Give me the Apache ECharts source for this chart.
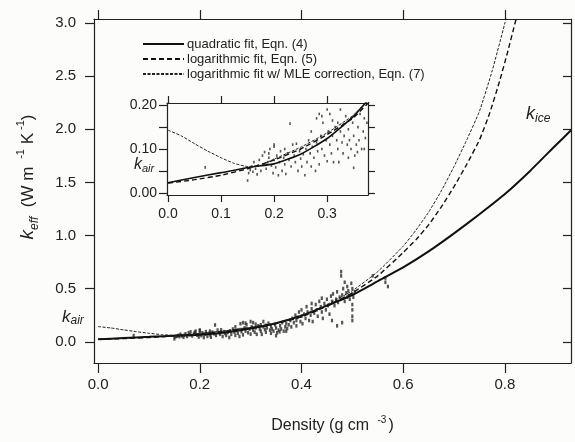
<!DOCTYPE html>
<html>
<head>
<meta charset="utf-8">
<script src="https://cdn.jsdelivr.net/npm/echarts@6/dist/echarts.min.js"></script>
<style>
  html, body { margin: 0; padding: 0; background: #fcfcfa; }
  #chart { width: 575px; height: 442px; }
</style>
</head>
<body>
<div id="chart"></div>
<script>
// fitted curves, [density, k_eff]
var quadFit = [[0, 0.023], [0.05, 0.035], [0.1, 0.046], [0.156, 0.059], [0.2, 0.066], [0.25, 0.088],
	[0.3, 0.124], [0.35, 0.175], [0.4, 0.245], [0.45, 0.34], [0.5, 0.44], [0.55, 0.57], [0.6, 0.70],
	[0.65, 0.85], [0.7, 1.02], [0.75, 1.20], [0.8, 1.39], [0.85, 1.61], [0.9, 1.85], [0.93, 1.99]]
var logFit = [[0, 0.022], [0.05, 0.03], [0.1, 0.04], [0.15, 0.055], [0.2, 0.075], [0.25, 0.1],
	[0.3, 0.133], [0.35, 0.172], [0.4, 0.235], [0.45, 0.335], [0.5, 0.46], [0.55, 0.62], [0.6, 0.84],
	[0.625, 0.96], [0.65, 1.1], [0.675, 1.27], [0.7, 1.46], [0.725, 1.67], [0.75, 1.9], [0.77, 2.15],
	[0.79, 2.46], [0.805, 2.72], [0.82, 3.0], [0.84, 3.35]]
var mleFit = [[0, 0.143], [0.025, 0.13], [0.05, 0.112], [0.075, 0.095], [0.1, 0.08], [0.125, 0.067],
	[0.15, 0.06], [0.175, 0.063], [0.2, 0.077], [0.25, 0.104], [0.3, 0.137], [0.35, 0.178], [0.4, 0.245],
	[0.45, 0.35], [0.5, 0.48], [0.55, 0.66], [0.6, 0.9], [0.625, 1.05], [0.65, 1.22], [0.675, 1.42],
	[0.7, 1.65], [0.725, 1.9], [0.75, 2.17], [0.775, 2.55], [0.8, 3.0], [0.815, 3.3]]

// measurements
var snowPoints = [
	[0.07, 0.058], [0.150, 0.028], [0.152, 0.045], [0.155, 0.052], [0.158, 0.06], [0.16, 0.048],
	[0.162, 0.07], [0.165, 0.055], [0.168, 0.042], [0.17, 0.062], [0.172, 0.075], [0.175, 0.05],
	[0.178, 0.085], [0.18, 0.065], [0.182, 0.093], [0.185, 0.055], [0.188, 0.07], [0.19, 0.08],
	[0.19, 0.09], [0.192, 0.1], [0.195, 0.062], [0.198, 0.045], [0.2, 0.075], [0.2, 0.11], [0.2, 0.105],
	[0.203, 0.058], [0.205, 0.085], [0.208, 0.04], [0.21, 0.07], [0.212, 0.095], [0.215, 0.05],
	[0.218, 0.08], [0.22, 0.065], [0.22, 0.1], [0.222, 0.043], [0.225, 0.09], [0.228, 0.075],
	[0.23, 0.158], [0.232, 0.06], [0.235, 0.11], [0.238, 0.085], [0.24, 0.07], [0.242, 0.112],
	[0.245, 0.05], [0.248, 0.095], [0.25, 0.078], [0.252, 0.06], [0.255, 0.088], [0.258, 0.04],
	[0.26, 0.1], [0.262, 0.07], [0.265, 0.12], [0.268, 0.09], [0.27, 0.06], [0.27, 0.14], [0.272, 0.105],
	[0.275, 0.08], [0.278, 0.05], [0.28, 0.17], [0.28, 0.115], [0.282, 0.095], [0.285, 0.18],
	[0.285, 0.065], [0.288, 0.13], [0.29, 0.175], [0.29, 0.1], [0.292, 0.16], [0.295, 0.085],
	[0.298, 0.12], [0.3, 0.19], [0.3, 0.072], [0.302, 0.14], [0.305, 0.18], [0.305, 0.11], [0.308, 0.09],
	[0.31, 0.165], [0.31, 0.13], [0.312, 0.07], [0.315, 0.15], [0.318, 0.12], [0.32, 0.1], [0.32, 0.16],
	[0.322, 0.07], [0.325, 0.14], [0.325, 0.19], [0.328, 0.115], [0.33, 0.09], [0.33, 0.155],
	[0.332, 0.13], [0.335, 0.175], [0.338, 0.11], [0.34, 0.145], [0.34, 0.08], [0.342, 0.12],
	[0.345, 0.1], [0.348, 0.16], [0.35, 0.057], [0.35, 0.13], [0.352, 0.085], [0.355, 0.11],
	[0.357, 0.093], [0.358, 0.15], [0.36, 0.12], [0.362, 0.18], [0.365, 0.1], [0.368, 0.14],
	[0.37, 0.1], [0.37, 0.17], [0.372, 0.125],
	[0.375, 0.16], [0.378, 0.2], [0.38, 0.14], [0.382, 0.22], [0.385, 0.18], [0.388, 0.25], [0.39, 0.2],
	[0.39, 0.15], [0.392, 0.23], [0.395, 0.28], [0.398, 0.19], [0.4, 0.24], [0.4, 0.3], [0.402, 0.17],
	[0.405, 0.26], [0.408, 0.22], [0.41, 0.33], [0.412, 0.28], [0.415, 0.2], [0.418, 0.25], [0.42, 0.31],
	[0.42, 0.36], [0.422, 0.19], [0.425, 0.27], [0.428, 0.35], [0.43, 0.3], [0.432, 0.24], [0.435, 0.38],
	[0.438, 0.33], [0.44, 0.28], [0.44, 0.41], [0.442, 0.22], [0.445, 0.36], [0.448, 0.3], [0.45, 0.4],
	[0.452, 0.34], [0.455, 0.26], [0.458, 0.43], [0.46, 0.38], [0.46, 0.2], [0.462, 0.45], [0.465, 0.34],
	[0.468, 0.4], [0.47, 0.15], [0.47, 0.47], [0.472, 0.37], [0.475, 0.42], [0.478, 0.62], [0.478, 0.66],
	[0.48, 0.44], [0.48, 0.18], [0.482, 0.5], [0.485, 0.38], [0.485, 0.56], [0.488, 0.46], [0.49, 0.42],
	[0.49, 0.52], [0.492, 0.48], [0.495, 0.4], [0.498, 0.55], [0.5, 0.3], [0.5, 0.24], [0.5, 0.2],
	[0.5, 0.35], [0.5, 0.5], [0.5, 0.45], [0.502, 0.42], [0.505, 0.47], [0.54, 0.62], [0.565, 0.56],
	[0.565, 0.6], [0.57, 0.52]
]

// ticks
var xTicks = [0, 0.2, 0.4, 0.6, 0.8]
var yTicks = [0, 0.5, 1.0, 1.5, 2.0, 2.5, 3.0]
var insetXTicks = [0, 0.1, 0.2, 0.3]
var insetYTicks = [0, 0.05, 0.1, 0.15, 0.2]
var insetYLabels = [0, 0.1, 0.2]

var names = ['quadratic fit, Eqn. (4)', 'logarithmic fit, Eqn. (5)', 'logarithmic fit w/ MLE correction, Eqn. (7)']

var ink = '#222'
var font = 'Liberation Sans, Arial, sans-serif'

function frameAxis(opt) {
	// one side of a boxed frame
	var a = {
		type: 'value',
		gridIndex: opt.grid,
		position: opt.pos,
		min: opt.min,
		max: opt.max,
		splitLine: { show: false },
		axisLine: { show: true, onZero: false, lineStyle: { color: ink, width: 1.2 } },
		axisTick: {
			show: true, inside: !!opt.inside, length: opt.tickLen,
			customValues: opt.ticks, lineStyle: { color: ink, width: 1.2 }
		},
		axisLabel: { show: false }
	}
	if (opt.labels) {
		a.axisLabel = {
			show: true, customValues: opt.labels, margin: opt.margin,
			fontSize: opt.fontSize, color: ink, fontFamily: font,
			formatter: function (v) { return v.toFixed(opt.digits) }
		}
	}
	return a
}

function curves(xi, yi, inset) {
	return [{
		name: names[0], type: 'line', xAxisIndex: xi, yAxisIndex: yi, data: quadFit,
		symbol: 'none', smooth: 0.15, lineStyle: { color: '#111', width: inset ? 1.6 : 2 }
	}, {
		name: names[1], type: 'line', xAxisIndex: xi, yAxisIndex: yi, data: logFit,
		symbol: 'none', smooth: 0.15, lineStyle: { color: '#111', width: 1.4, type: [5, 3] }
	}, {
		name: names[2], type: 'line', xAxisIndex: xi, yAxisIndex: yi, data: mleFit,
		symbol: 'none', smooth: 0.15, lineStyle: { color: '#222', width: 1, type: [3, 1.5] }
	}, {
		name: 'data', type: 'scatter', xAxisIndex: xi, yAxisIndex: yi, data: snowPoints,
		symbol: 'rect', symbolSize: inset ? [1.6, 2.6] : [2.2, 3.6], itemStyle: { color: '#2a2a2a' }, clip: true
	}]
}

var chart = echarts.init(document.getElementById('chart'))
var option = {
	animation: false,
	backgroundColor: '#fcfcfa',
	grid: [
		{ left: 94, top: 19, width: 477, height: 344 },
		{ left: 167, top: 103, width: 201, height: 92, show: true, backgroundColor: '#fcfcfa', borderWidth: 0 }
	],
	legend: {
		data: names,
		orient: 'vertical',
		left: 137, top: 32,
		itemWidth: 41, itemHeight: 10, itemGap: 1, itemStyle: { opacity: 0 },
		textStyle: { fontSize: 13, lineHeight: 14, color: ink, fontFamily: font, padding: [0, 0, 0, -2] }
	},
	xAxis: [
		Object.assign(frameAxis({ grid: 0, pos: 'bottom', min: -0.008, max: 0.93, tickLen: 10, ticks: xTicks,
			labels: xTicks, margin: 14, fontSize: 15, digits: 1 }), {
			name: '{b|Density (g cm }{sup|-3}{b|)}',
			nameLocation: 'middle', nameGap: 52,
			nameTextStyle: {
				rich: {
					b: { fontSize: 16, color: ink, fontFamily: font, lineHeight: 22 },
					sup: { fontSize: 10, color: ink, fontFamily: font, verticalAlign: 'top', lineHeight: 10, padding: [0, 2, 0, 4] }
				}
			}
		}),
		frameAxis({ grid: 0, pos: 'top', min: -0.008, max: 0.93, tickLen: 9, ticks: xTicks }),
		frameAxis({ grid: 1, pos: 'bottom', min: -0.002, max: 0.377, tickLen: 7, ticks: insetXTicks,
			labels: insetXTicks, margin: 12, fontSize: 14, digits: 1 }),
		frameAxis({ grid: 1, pos: 'top', min: -0.002, max: 0.377, tickLen: 7, ticks: insetXTicks })
	],
	yAxis: [
		frameAxis({ grid: 0, pos: 'left', min: -0.2, max: 3.038, tickLen: 9, ticks: yTicks,
			labels: yTicks, margin: 18, fontSize: 15, digits: 1 }),
		frameAxis({ grid: 0, pos: 'right', min: -0.2, max: 3.038, tickLen: 8, ticks: yTicks, inside: true }),
		frameAxis({ grid: 1, pos: 'left', min: -0.005, max: 0.205, tickLen: 8, ticks: insetYTicks,
			labels: insetYLabels, margin: 10, fontSize: 14, digits: 2 }),
		frameAxis({ grid: 1, pos: 'right', min: -0.005, max: 0.205, tickLen: 7, ticks: insetYTicks })
	],
	graphic: [
		{
			type: 'text', x: 28, y: 177, rotation: Math.PI / 2,
			style: {
				text: '{k|k}{sub|eff}{b|  (W m }{sup|-1}{b| K}{sup|-1}{b|)}',
				align: 'center', verticalAlign: 'middle',
				rich: {
					k: { fontSize: 19, fontStyle: 'italic', fill: ink, fontFamily: font, lineHeight: 26 },
					sub: { fontSize: 12, fontStyle: 'italic', fill: ink, fontFamily: font, verticalAlign: 'bottom', lineHeight: 12 },
					b: { fontSize: 17, fill: ink, fontFamily: font, lineHeight: 26 },
					sup: { fontSize: 11, fill: ink, fontFamily: font, verticalAlign: 'top', lineHeight: 11, padding: [0, 0, 0, 3] }
				}
			}
		},
		{
			type: 'text', x: 62, y: 307,
			style: {
				text: '{k|k}{sub|air}',
				rich: {
					k: { fontSize: 17, fontStyle: 'italic', fill: ink, fontFamily: font, lineHeight: 20 },
					sub: { fontSize: 12, fontStyle: 'italic', fill: ink, fontFamily: font, verticalAlign: 'bottom', lineHeight: 12 }
				}
			}
		},
		{
			type: 'text', x: 526, y: 103,
			style: {
				text: '{k|k}{sub|ice}',
				rich: {
					k: { fontSize: 18, fontStyle: 'italic', fill: ink, fontFamily: font, lineHeight: 22 },
					sub: { fontSize: 12, fontStyle: 'italic', fill: ink, fontFamily: font, verticalAlign: 'bottom', lineHeight: 12 }
				}
			}
		},
		{
			type: 'text', x: 134, y: 155,
			style: {
				text: '{k|k}{sub|air}',
				rich: {
					k: { fontSize: 16, fontStyle: 'italic', fill: ink, fontFamily: font, lineHeight: 19 },
					sub: { fontSize: 11, fontStyle: 'italic', fill: ink, fontFamily: font, verticalAlign: 'bottom', lineHeight: 11 }
				}
			}
		}
	],
	series: curves(0, 0, false).concat(curves(2, 2, true))
}
chart.setOption(option)
</script>
</body>
</html>
